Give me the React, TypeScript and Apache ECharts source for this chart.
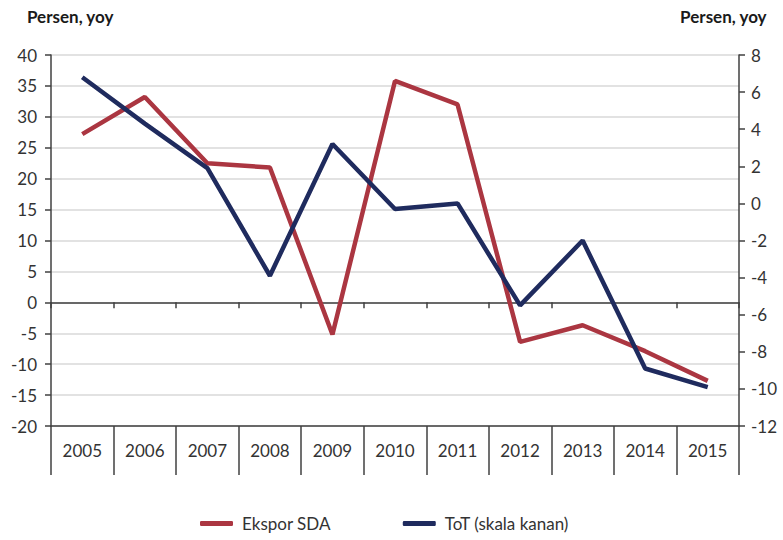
import React, { useEffect, useRef } from "react";
import * as echarts from "echarts";

const years = ["2005", "2006", "2007", "2008", "2009", "2010", "2011", "2012", "2013", "2014", "2015"];
const eksporSDA = [27.2, 33.2, 22.5, 21.8, -5.2, 35.8, 32.0, -6.4, -3.7, -7.9, -12.7];
const tot = [6.8, 4.3, 1.9, -3.9, 3.2, -0.3, 0.0, -5.5, -2.0, -8.9, -9.9];
const axisTitle = "Persen, yoy";

const RED = "#ab3641";
const BLUE = "#1f2b5e";
const AXIS = "#404040";
const FONT = "Lato, 'Noto Sans', sans-serif";

export default function App() {
  const ref = useRef<HTMLDivElement>(null);
  useEffect(() => {
    if (!ref.current) return;
    const chart = echarts.init(ref.current, null, { renderer: "svg" });
    chart.setOption({
      animation: false,
      textStyle: { fontFamily: FONT },
      grid: { left: 51, right: 44, top: 55, bottom: 114, containLabel: false },
      legend: {
        left: 200,
        top: 515,
        padding: 0,
        itemWidth: 33,
        itemHeight: 5,
        itemGap: 72,
        icon: "roundRect",
        textStyle: { fontSize: 17, color: "#333", fontFamily: FONT, padding: [0, 0, 0, 4] },
        data: ["Ekspor SDA", "ToT (skala kanan)"],
      },
      graphic: [
        {
          type: "text",
          left: 27,
          top: 8,
          style: { text: axisTitle, font: `bold 17px ${FONT}`, fill: "#1a1a1a" },
        },
        {
          type: "text",
          right: 16,
          top: 8,
          style: { text: axisTitle, font: `bold 17px ${FONT}`, fill: "#1a1a1a" },
        },
      ],
      xAxis: [
        {
          type: "category",
          data: years,
          boundaryGap: true,
          axisLine: { onZero: true, onZeroAxisIndex: 0, lineStyle: { color: AXIS, width: 1.5 } },
          axisTick: { show: true, length: 6, lineStyle: { color: AXIS, width: 1.5 } },
          axisLabel: { show: false },
          splitLine: { show: false },
        },
        {
          type: "category",
          data: years,
          position: "bottom",
          boundaryGap: true,
          axisLine: { onZero: false, lineStyle: { color: AXIS, width: 1.5 } },
          axisTick: { show: true, length: 49, lineStyle: { color: AXIS, width: 1.5 } },
          axisLabel: { show: true, margin: 16, fontSize: 17, color: "#333", fontFamily: FONT },
          splitLine: { show: false },
        },
      ],
      yAxis: [
        {
          type: "value",
          min: -20,
          max: 40,
          interval: 5,
          axisLine: { show: true, lineStyle: { color: AXIS, width: 1.5 } },
          axisTick: { show: true, length: 6, lineStyle: { color: AXIS, width: 1.5 } },
          axisLabel: { fontSize: 17, color: "#333", margin: 14, fontFamily: FONT },
          splitLine: { show: true, lineStyle: { color: "#d9d9d9", width: 1.5 } },
        },
        {
          type: "value",
          min: -12,
          max: 8,
          interval: 2,
          position: "right",
          axisLine: { show: true, lineStyle: { color: AXIS, width: 1.5 } },
          axisTick: { show: true, length: 6, lineStyle: { color: AXIS, width: 1.5 } },
          axisLabel: { fontSize: 17, color: "#333", margin: 12, fontFamily: FONT },
          splitLine: { show: false },
        },
      ],
      series: [
        {
          name: "Ekspor SDA",
          type: "line",
          data: eksporSDA,
          xAxisIndex: 1,
          yAxisIndex: 0,
          symbol: "none",
          lineStyle: { color: RED, width: 4.5 },
          itemStyle: { color: RED },
        },
        {
          name: "ToT (skala kanan)",
          type: "line",
          data: tot,
          xAxisIndex: 1,
          yAxisIndex: 1,
          symbol: "none",
          lineStyle: { color: BLUE, width: 4.5 },
          itemStyle: { color: BLUE },
        },
      ],
    });
    return () => chart.dispose();
  }, []);
  return (
    <div
      ref={ref}
      style={{ position: "absolute", left: 0, top: 0, width: 783, height: 540, background: "#fff" }}
    />
  );
}
